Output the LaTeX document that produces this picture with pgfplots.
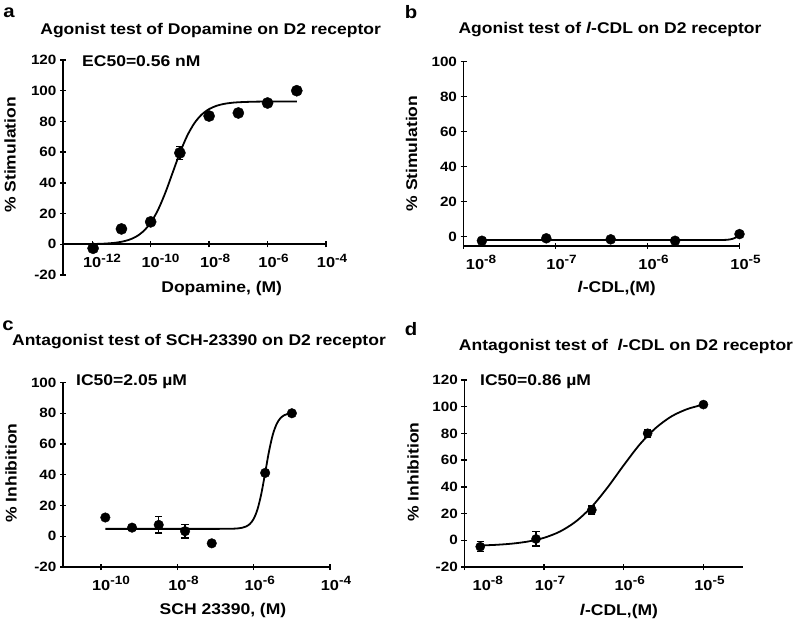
\documentclass[border=0pt]{standalone}
\usepackage{fontspec}
\setmainfont{Liberation Sans}[FakeStretch=1.13]
\usepackage{pgfplots}
\pgfplotsset{compat=1.18}

% x values are log10 of the molar concentration
\newcommand{\ttl}{\fontsize{15.5}{18}\selectfont\bfseries}
\newcommand{\lett}{\fontsize{18}{20}\selectfont\bfseries}
\newcommand{\tkl}{\fontsize{13.5}{16}\selectfont\bfseries}
\newcommand{\xtl}{\fontsize{14.5}{16}\selectfont\bfseries}
\newcommand{\pw}[1]{10\rlap{\raisebox{5.5pt}{\fontsize{12}{12}\selectfont -#1}}}

\pgfplotsset{
  myaxis/.style={
    scale only axis,
    axis line style={line width=1.6pt},
    tick style={line width=1.4pt, black},
    major tick length=6pt,
    tick align=outside,
    tick label style={font=\tkl},
    clip=false,
  },
  yonly/.style={axis x line=none, axis y line=left, y axis line style={-}},
  xonly/.style={axis x line=bottom, axis y line=none, x axis line style={-},
    xticklabel style={font=\xtl, yshift=-3pt}},
}

\begin{document}
\begin{tikzpicture}
\useasboundingbox (0pt,0pt) rectangle (800pt,624pt);

% ---------- a ----------
\begin{axis}[myaxis, yonly,
  at={(63pt,349pt)}, anchor=south west, width=263pt, height=215pt,
  xmin=-13, xmax=-4, ymin=-20, ymax=120,
  ytick={-20,0,20,40,60,80,100,120},
  yticklabels={-20,0,20,40,60,80,100,120},
]
\addplot[black, line width=1.8pt, smooth] coordinates {
  (-12,0.17) (-11.75,0.29) (-11.5,0.52) (-11.25,0.92) (-11,1.63)
  (-10.75,2.85) (-10.5,4.95) (-10.25,8.45) (-10,14.04) (-9.75,22.34)
  (-9.5,33.48) (-9.25,46.5) (-9,59.53) (-8.75,70.66) (-8.5,78.96)
  (-8.25,84.55) (-8,88.05) (-7.75,90.15) (-7.5,91.38) (-7.25,92.08)
  (-7,92.48) (-6.5,92.83) (-6,92.95) (-5,93.0)};
\addplot[black, only marks, mark=*, mark size=5.6pt,
  error bars/.cd, y dir=both, y explicit,
  error bar style={line width=1.4pt},
  error mark options={rotate=90, mark size=3.6pt, line width=1.4pt}]
  coordinates {
  (-11.97,-2.6) (-11,10) (-10,14.6) (-9,59.5) +- (0,4.2)
  (-8,83.5) (-7,85.5) (-6,92) (-5,100)};
\end{axis}
\begin{axis}[myaxis, xonly,
  at={(63pt,379.7pt)}, anchor=south west, width=263pt, height=184.3pt,
  xmin=-13, xmax=-4, ymin=0, ymax=120,
  xtick={-12,-10,-8,-6,-4},
  xticklabels={\pw{12},\pw{10},\pw{8},\pw{6},\pw{4}},
]
\end{axis}

% ---------- b ----------
\begin{axis}[myaxis, yonly,
  at={(463.5pt,378pt)}, anchor=south west, width=276pt, height=184.3pt,
  xmin=-8, xmax=-5, ymin=-5.3, ymax=100,
  ytick={0,20,40,60,80,100},
  yticklabels={0,20,40,60,80,100},
]
\addplot[black, line width=1.8pt] coordinates {
  (-7.8,-1.9) (-7,-1.9) (-6,-1.9) (-5.25,-1.9) (-5.2,-1.88) (-5.15,-1.8)
  (-5.125,-1.7) (-5.1,-1.5) (-5.075,-1.2) (-5.05,-0.7) (-5.025,0.1) (-5,1.2)};
\addplot[black, only marks, mark=*, mark size=5pt] coordinates {
  (-7.8,-2.3) (-7.1,-0.9) (-6.4,-1.5) (-5.7,-2.3) (-5,1.5)};
\end{axis}
\begin{axis}[myaxis, xonly,
  at={(463.5pt,378pt)}, anchor=south west, width=276pt, height=184.3pt,
  xmin=-8, xmax=-5, ymin=-5.3, ymax=100,
  xtick={-8,-7,-6,-5},
  xticklabels={\hspace{23pt}\pw{8},\pw{7},\pw{6},\pw{5}},
]
\end{axis}

% ---------- c ----------
\begin{axis}[myaxis, yonly,
  at={(63pt,57pt)}, anchor=south west, width=267pt, height=184.5pt,
  xmin=-11, xmax=-4, ymin=-20, ymax=100,
  ytick={-20,0,20,40,60,80,100},
  yticklabels={-20,0,20,40,60,80,100},
]
\addplot[black, line width=1.8pt, smooth] coordinates {
  (-9.89,4.8) (-9,4.8) (-8,4.8) (-7,4.8) (-6.5,4.96) (-6.3,5.53) (-6.2,6.34)
  (-6.1,8.02) (-6,11.36) (-5.9,17.57) (-5.8,27.69) (-5.7,41.21) (-5.6,55.1)
  (-5.5,66.05) (-5.4,72.97) (-5.3,76.8) (-5.2,78.72) (-5.1,79.65) (-5,80.1)};
\addplot[black, only marks, mark=*, mark size=4.8pt,
  error bars/.cd, y dir=both, y explicit,
  error bar style={line width=1.4pt},
  error mark options={rotate=90, mark size=3.6pt, line width=1.4pt}]
  coordinates {
  (-9.89,12.2) (-9.19,5.6) +- (0,1.5) (-8.49,7.4) +- (0,5.4)
  (-7.8,3.3) +- (0,4.4) (-7.1,-4.6) (-5.7,41.2) (-5,80)};
\end{axis}
\begin{axis}[myaxis, xonly,
  at={(63pt,57pt)}, anchor=south west, width=267pt, height=184.5pt,
  xmin=-11, xmax=-4, ymin=-20, ymax=100,
  xtick={-10,-8,-6,-4},
  xticklabels={\pw{10},\pw{8},\pw{6},\pw{4}},
]
\end{axis}

% ---------- d ----------
\begin{axis}[myaxis, yonly,
  at={(464.3pt,57pt)}, anchor=south west, width=279pt, height=187pt,
  xmin=-8, xmax=-4.5, ymin=-20, ymax=120,
  ytick={-20,0,20,40,60,80,100,120},
  yticklabels={-20,0,20,40,60,80,100,120},
]
\addplot[black, line width=1.8pt, smooth] coordinates {
  (-7.8,-3.89) (-7.6,-3.39) (-7.4,-2.50) (-7.2,-0.91) (-7,1.86)
  (-6.8,6.55) (-6.6,14.1) (-6.4,25.2) (-6.2,39.8) (-6,56.2)
  (-5.8,71.7) (-5.6,84.0) (-5.4,92.8) (-5.2,98.3) (-5,101.6)};
\addplot[black, only marks, mark=*, mark size=4.6pt,
  error bars/.cd, y dir=both, y explicit,
  error bar style={line width=1.4pt},
  error mark options={rotate=90, mark size=3.6pt, line width=1.4pt}]
  coordinates {
  (-7.8,-4.8) +- (0,3.7) (-7.1,1) +- (0,5.4) (-6.4,22.7) +- (0,3)
  (-5.7,80.1) +- (0,3) (-5,101.6)};
\end{axis}
\begin{axis}[myaxis, xonly,
  at={(464.3pt,57pt)}, anchor=south west, width=279pt, height=187pt,
  xmin=-8, xmax=-4.5, ymin=-20, ymax=120,
  xtick={-8,-7,-6,-5},
  xticklabels={\hspace{35pt}\pw{8},\pw{7},\pw{6},\pw{5}},
]
\end{axis}

% ---------- texts ----------
\node[font=\lett] at (9pt,611pt) {a};
\node[font=\lett] at (411pt,611.5pt) {b};
\node[font=\lett] at (8pt,298pt) {c};
\node[font=\lett] at (411pt,295pt) {d};

\node[font=\ttl] at (210.7pt,593.3pt) {Agonist test of Dopamine on D2 receptor};
\node[font=\ttl] at (610pt,594pt) {Agonist test of \textit{l}-CDL on D2 receptor};
\node[font=\ttl] at (199pt,282.3pt) {Antagonist test of SCH-23390 on D2 receptor};
\node[font=\ttl] at (626pt,277.3pt) {Antagonist test of \ \textit{l}-CDL on D2 receptor};

\node[font=\ttl, anchor=west, inner sep=0pt] at (82pt,563pt) {EC50=0.56 nM};
\node[font=\ttl, anchor=west, inner sep=0pt] at (76pt,242.3pt) {IC50=2.05 µM};
\node[font=\ttl, anchor=west, inner sep=0pt] at (480pt,242.3pt) {IC50=0.86 µM};

\node[font=\ttl, rotate=90] at (10pt,469pt) {\% Stimulation};
\node[font=\ttl, rotate=90] at (411.5pt,470.5pt) {\% Stimulation};
\node[font=\ttl, rotate=90] at (11pt,151pt) {\% Inhibition};
\node[font=\ttl, rotate=90] at (413pt,152pt) {\% Inhibition};

\node[font=\ttl] at (221.7pt,335.7pt) {Dopamine, (M)};
\node[font=\ttl] at (616.7pt,335.7pt) {\textit{l}-CDL,(M)};
\node[font=\ttl] at (223pt,14pt) {SCH 23390, (M)};
\node[font=\ttl] at (619pt,12.3pt) {\textit{l}-CDL,(M)};
\end{tikzpicture}
\end{document}
